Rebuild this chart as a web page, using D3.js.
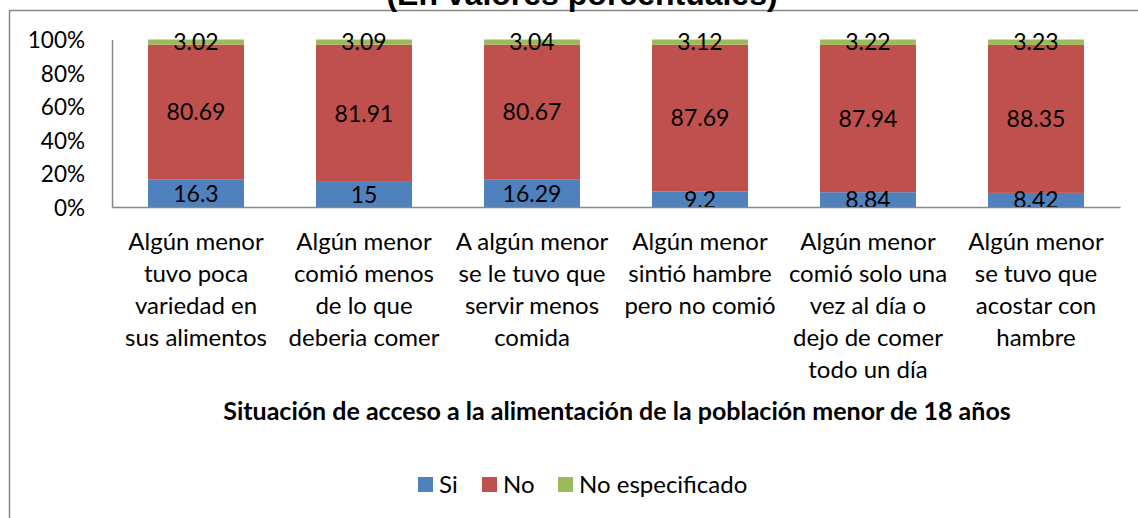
<!DOCTYPE html>
<html>
<head>
<meta charset="utf-8">
<script src="https://cdn.jsdelivr.net/npm/d3@7/dist/d3.min.js"></script>
<style>
  html, body { margin: 0; padding: 0; background: #fff; }
  svg { display: block; }
  text { font-family: Lato, "Open Sans", sans-serif; fill: #000; }
</style>
</head>
<body>
<svg id="chart" width="1138" height="518"></svg>
<script>
const categories = [
  "Algún menor\ntuvo poca\nvariedad en\nsus alimentos",
  "Algún menor\ncomió menos\nde lo que\ndeberia comer",
  "A algún menor\nse le tuvo que\nservir menos\ncomida",
  "Algún menor\nsintió hambre\npero no comió",
  "Algún menor\ncomió solo una\nvez al día o\ndejo de comer\ntodo un día",
  "Algún menor\nse tuvo que\nacostar con\nhambre"
];
const seriesNames = ["Si", "No", "No especificado"];
const si = [16.3, 15, 16.29, 9.2, 8.84, 8.42];
const no = [80.69, 81.91, 80.67, 87.69, 87.94, 88.35];
const noEsp = [3.02, 3.09, 3.04, 3.12, 3.22, 3.23];
const yTicks = [0, 0.2, 0.4, 0.6, 0.8, 1];
const titleText = "(En valores porcentuales)";
const xTitle = "Situación de acceso a la alimentación de la población menor de 18 años";
const colors = ["#4F81BD", "#C0504D", "#9BBB59"];

const rows = categories.map((c, i) => ({cat: c, "Si": si[i], "No": no[i], "No especificado": noEsp[i]}));

const svg = d3.select("#chart");
const axisColor = "#868686";

// outer chart border (extends beyond the view)
svg.append("rect")
  .attr("x", 9.5).attr("y", 10.5)
  .attr("width", 1200).attr("height", 600)
  .attr("fill", "none").attr("stroke", axisColor).attr("stroke-width", 1.5);

// title (partly cut off at top, as in the reference)
svg.append("text")
  .attr("x", 582).attr("y", 5)
  .attr("text-anchor", "middle")
  .style("font-family", "'Liberation Sans', Arial, sans-serif")
  .style("font-weight", "bold")
  .style("font-size", "32px")
  .text(titleText);

const x = d3.scaleBand().domain(categories).range([112, 1120])
  .paddingInner(0.4286).paddingOuter(0.2143);
const y = d3.scaleLinear().domain([0, 1]).range([207, 39.5]);

const stack = d3.stack().keys(seriesNames).offset(d3.stackOffsetExpand);
const stacked = stack(rows);

const g = svg.append("g");
stacked.forEach((s, si_) => {
  g.selectAll(null).data(s).enter().append("rect")
    .attr("x", d => x(d.data.cat))
    .attr("width", x.bandwidth())
    .attr("y", d => y(d[1]))
    .attr("height", d => y(d[0]) - y(d[1]))
    .attr("fill", colors[si_]);
});

// axes
const yAxis = d3.axisLeft(y).tickValues(yTicks).tickFormat(d3.format(".0%")).tickSize(0).tickPadding(27);
const ya = svg.append("g").attr("transform", "translate(112,0)").call(yAxis);
ya.select(".domain").attr("stroke", axisColor).attr("stroke-width", 1.5);
ya.selectAll("text").style("font-family", "Lato, sans-serif").style("font-size", "22.5px").attr("dy", "0.36em");

const xAxis = d3.axisBottom(x).tickSize(0).tickFormat("");
const xa = svg.append("g").attr("transform", "translate(0,207)").call(xAxis);
xa.select(".domain").attr("stroke", axisColor).attr("stroke-width", 1.5);

// value labels
stacked.forEach((s, si_) => {
  g.selectAll(null).data(s).enter().append("text")
    .attr("x", d => x(d.data.cat) + x.bandwidth() / 2)
    .attr("y", d => (y(d[0]) + y(d[1])) / 2)
    .attr("dy", "0.36em")
    .attr("text-anchor", "middle")
    .style("font-size", "23px")
    .text(d => d.data[s.key]);
});

// category labels
categories.forEach(c => {
  const t = svg.append("text")
    .attr("text-anchor", "middle")
    .style("font-size", "24px");
  c.split("\n").forEach((line, i) => {
    t.append("tspan")
      .attr("x", x(c) + x.bandwidth() / 2)
      .attr("y", 250 + i * 32)
      .text(line);
  });
});

// x axis title
svg.append("text")
  .attr("x", 617).attr("y", 420)
  .attr("text-anchor", "middle")
  .style("font-weight", "bold")
  .style("font-size", "25px")
  .text(xTitle);

// legend
const legendX = [418, 482, 558];
seriesNames.forEach((n, i) => {
  svg.append("rect").attr("x", legendX[i]).attr("y", 477)
    .attr("width", 15).attr("height", 15).attr("fill", colors[i]);
  svg.append("text").attr("x", legendX[i] + 21).attr("y", 493)
    .style("font-size", "24px").text(n);
});
</script>
</body>
</html>
